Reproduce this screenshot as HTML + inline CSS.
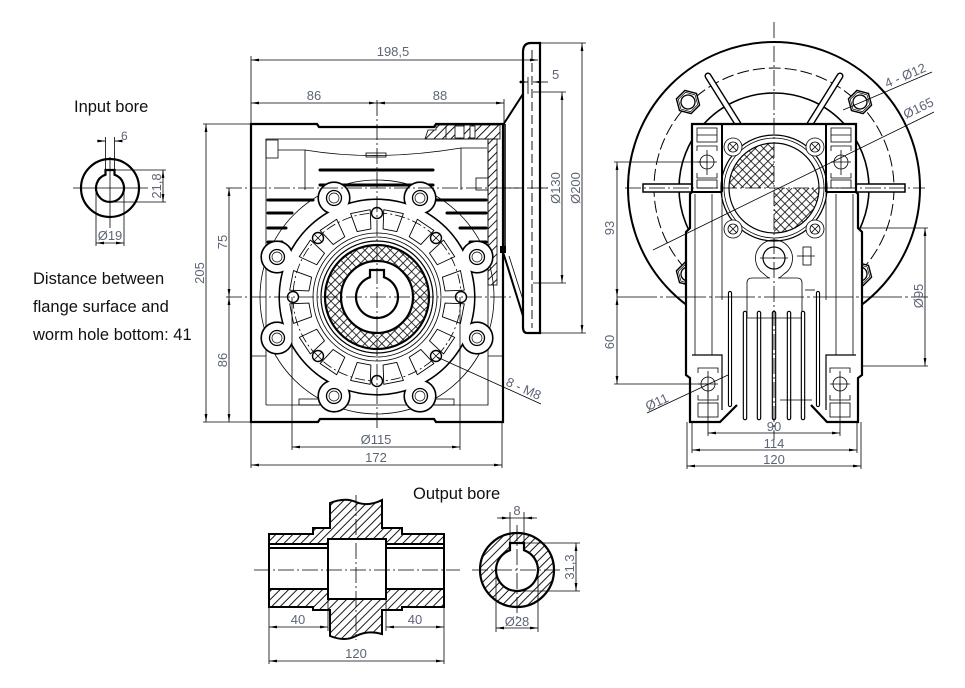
<!DOCTYPE html>
<html><head><meta charset="utf-8"><title>Worm gearbox dimensions</title>
<style>
html,body{margin:0;padding:0;background:#fff;width:965px;height:688px;overflow:hidden}
svg{display:block}
.t{font-family:"Liberation Sans",sans-serif;font-size:13px;fill:#5d6575}
.h{font-family:"Liberation Sans",sans-serif;font-size:16.5px;fill:#111}
.k{stroke:#000;fill:none;stroke-width:2.2}
.m{stroke:#000;fill:none;stroke-width:1.2}
.n{stroke:#000;fill:none;stroke-width:.8}
.c{stroke:#000;fill:none;stroke-width:.8;stroke-dasharray:16 3 2 3}
.d{stroke:#000;fill:none;stroke-width:.8}
.a{marker-start:url(#ar);marker-end:url(#ar)}
.e{marker-end:url(#ar)}
</style></head><body>
<svg width="965" height="688" viewBox="0 0 965 688" xmlns="http://www.w3.org/2000/svg">
<defs>
<marker id="ar" viewBox="0 0 8 4" refX="8" refY="2" markerWidth="8" markerHeight="4" markerUnits="userSpaceOnUse" orient="auto-start-reverse"><path d="M0,0.6 L8,2 L0,3.4z" fill="#000"/></marker>
<pattern id="hx" width="6" height="6" patternUnits="userSpaceOnUse" patternTransform="rotate(45)"><line x1="3" y1="-1" x2="3" y2="7" stroke="#000" stroke-width="0.9"/></pattern>
<pattern id="cx" width="6" height="6" patternUnits="userSpaceOnUse" patternTransform="rotate(45)"><path d="M3,-1 V7 M-1,3 H7" stroke="#000" stroke-width="0.8"/></pattern>
<path id="win" d="M370,229 L384,229 L387,210 L367,210 Z" fill="none" stroke="#000" stroke-width=".9" stroke-linejoin="round"/>
<g id="nut"><polygon points="12,0 6,10.4 -6,10.4 -12,0 -6,-10.4 6,-10.4" fill="#fff" stroke="#000" stroke-width="1.4"/><polygon points="10,0 5,8.7 -5,8.7 -10,0 -5,-8.7 5,-8.7" fill="none" stroke="#000" stroke-width=".7"/><circle r="7" fill="none" stroke="#000" stroke-width="1.3"/></g>
</defs>
<rect width="965" height="688" fill="#fff"/>

<!-- ============ INPUT BORE ============ -->
<text class="h" x="74" y="112">Input bore</text>
<circle cx="110" cy="188" r="29" class="k"/>
<path class="k" d="M105.5,174.7 L105.5,170 L114.5,170 L114.5,174.7 A14,14 0 1 1 105.5,174.7 Z"/>
<line class="n" x1="73" y1="188" x2="148" y2="188"/>
<line class="n" x1="110" y1="157" x2="110" y2="228"/>
<line class="d" x1="105.5" y1="170" x2="105.5" y2="137"/>
<line class="d" x1="114.5" y1="170" x2="114.5" y2="137"/>
<line class="d e" x1="97" y1="141" x2="105.5" y2="141"/>
<line class="d e" x1="121" y1="141" x2="114.5" y2="141"/>
<text class="t" x="121" y="140" style="font-size:12px">6</text>
<line class="d" x1="115" y1="170" x2="166" y2="170"/>
<line class="d" x1="110" y1="202" x2="166" y2="202"/>
<line class="d a" x1="163" y1="170" x2="163" y2="202"/>
<text class="t" transform="translate(161,186) rotate(-90)" text-anchor="middle">21,8</text>
<line class="d" x1="96" y1="188" x2="96" y2="246"/>
<line class="d" x1="124" y1="188" x2="124" y2="246"/>
<line class="d a" x1="96" y1="243" x2="124" y2="243"/>
<text class="t" x="110" y="240" text-anchor="middle">Ø19</text>

<text class="h" x="33" y="284">Distance between</text>
<text class="h" x="33" y="312">flange surface and</text>
<text class="h" x="33" y="340">worm hole bottom: 41</text>

<!-- ============ FRONT VIEW ============ -->
<path class="k" style="fill:#fff" d="M251,124 L317,124 L319,127 L434,127 L436,124 L503,124 L503,422 L436,422 L434,419 L320,419 L318,422 L251,422 Z"/>
<path class="n" d="M266,405 L266,139 L487,139"/>
<rect class="n" x="266" y="140" width="12" height="18"/>
<path class="n" d="M278,150 L305,150 L305,190"/>
<path class="n" d="M305,150 Q377,162 461,148"/>
<rect class="n" x="366" y="153" width="20" height="4"/>
<path class="n" d="M461,190 L461,148 L487,148"/>
<rect class="n" x="476" y="178" width="12" height="12"/>
<rect x="488" y="139" width="9" height="146" fill="url(#hx)" stroke="#000" stroke-width=".8"/>
<path d="M425,139 L428,130 L436,130 L436,125 L500,125 L500,139 Z" fill="url(#hx)" stroke="#000" stroke-width=".8"/>
<rect x="455" y="126" width="9" height="12" fill="#fff" stroke="#000" stroke-width=".8"/>
<rect x="470" y="126" width="5" height="12" fill="#fff" stroke="#000" stroke-width=".8"/>
<line class="n" x1="446" y1="126" x2="446" y2="139"/>
<g stroke="#000" stroke-width="3" stroke-linecap="round">
<line x1="320" y1="170" x2="433" y2="170"/>
<line x1="320" y1="185" x2="433" y2="185"/>
<line x1="268" y1="200" x2="313" y2="200"/>
<line x1="437" y1="200" x2="486" y2="200"/>
<line x1="268" y1="213" x2="292" y2="213"/>
<line x1="268" y1="228" x2="286" y2="228"/>
<line x1="268" y1="242" x2="282" y2="242"/>
<line x1="447" y1="213" x2="486" y2="213"/>
<line x1="460" y1="228" x2="486" y2="228"/>
<line x1="470" y1="242" x2="486" y2="242"/>
</g>
<path class="n" d="M251,356 L266,356 M266,405 L488,405 L488,139 M488,356 L502,356"/>
<rect class="n" x="299" y="399" width="22" height="6"/>
<rect class="n" x="432" y="399" width="22" height="6"/>
<circle cx="377" cy="297" r="117" class="n"/>

<!-- flange outline (union) -->
<g stroke="#000" stroke-width="3.2" fill="none">
<circle cx="377" cy="297" r="97"/>
<circle cx="334" cy="198" r="15"/><circle cx="420" cy="198" r="15"/>
<circle cx="277" cy="257" r="15"/><circle cx="477" cy="257" r="15"/>
<circle cx="277" cy="338" r="15"/><circle cx="477" cy="338" r="15"/>
<circle cx="334" cy="396" r="15"/><circle cx="420" cy="396" r="15"/>
</g>
<g fill="#fff">
<circle cx="377" cy="297" r="97"/>
<circle cx="334" cy="198" r="15"/><circle cx="420" cy="198" r="15"/>
<circle cx="277" cy="257" r="15"/><circle cx="477" cy="257" r="15"/>
<circle cx="277" cy="338" r="15"/><circle cx="477" cy="338" r="15"/>
<circle cx="334" cy="396" r="15"/><circle cx="420" cy="396" r="15"/>
</g>
<g stroke="#000" fill="none" stroke-width="1.3">
<circle cx="334" cy="198" r="7.5"/><circle cx="420" cy="198" r="7.5"/>
<circle cx="277" cy="257" r="7.5"/><circle cx="477" cy="257" r="7.5"/>
<circle cx="277" cy="338" r="7.5"/><circle cx="477" cy="338" r="7.5"/>
<circle cx="334" cy="396" r="7.5"/><circle cx="420" cy="396" r="7.5"/>
</g>
<g stroke="#000" fill="none" stroke-width=".7">
<circle cx="334" cy="198" r="5"/><circle cx="420" cy="198" r="5"/>
<circle cx="277" cy="257" r="5"/><circle cx="477" cy="257" r="5"/>
<circle cx="277" cy="338" r="5"/><circle cx="477" cy="338" r="5"/>
<circle cx="334" cy="396" r="5"/><circle cx="420" cy="396" r="5"/>
</g>
<circle cx="377" cy="297" r="84" class="n" stroke-dasharray="10 3 2 3"/>
<use href="#win" transform="rotate(11 377 297)"/><use href="#win" transform="rotate(34 377 297)"/>
<use href="#win" transform="rotate(56 377 297)"/><use href="#win" transform="rotate(79 377 297)"/>
<use href="#win" transform="rotate(101 377 297)"/><use href="#win" transform="rotate(124 377 297)"/>
<use href="#win" transform="rotate(146 377 297)"/><use href="#win" transform="rotate(169 377 297)"/>
<use href="#win" transform="rotate(191 377 297)"/><use href="#win" transform="rotate(214 377 297)"/>
<use href="#win" transform="rotate(236 377 297)"/><use href="#win" transform="rotate(259 377 297)"/>
<use href="#win" transform="rotate(281 377 297)"/><use href="#win" transform="rotate(304 377 297)"/>
<use href="#win" transform="rotate(326 377 297)"/><use href="#win" transform="rotate(349 377 297)"/>
<circle cx="377" cy="297" r="64" class="n"/>
<circle cx="377" cy="297" r="60" class="n"/>
<circle cx="377" cy="297" r="56" class="m"/>
<g stroke="#000" fill="#fff" stroke-width="1.4">
<circle cx="377" cy="213" r="5.5"/><circle cx="436" cy="238" r="5.5"/>
<circle cx="461" cy="297" r="5.5"/><circle cx="436" cy="356" r="5.5"/>
<circle cx="377" cy="381" r="5.5"/><circle cx="318" cy="356" r="5.5"/>
<circle cx="293" cy="297" r="5.5"/><circle cx="318" cy="238" r="5.5"/>
</g>
<path class="n" d="M432,234 l8,8 m0,-8 l-8,8 M432,352 l8,8 m0,-8 l-8,8 M314,352 l8,8 m0,-8 l-8,8 M314,234 l8,8 m0,-8 l-8,8"/>
<path fill="url(#cx)" fill-rule="evenodd" d="M325,297 a52,52 0 1 0 104,0 a52,52 0 1 0 -104,0 Z M341,297 a36,36 0 1 0 72,0 a36,36 0 1 0 -72,0 Z"/>
<circle cx="377" cy="297" r="52" class="k"/>
<circle cx="377" cy="297" r="36" class="k" style="fill:#fff"/>
<path class="k" d="M370,277.2 L370,270 L384,270 L384,277.2 A21,21 0 1 1 370,277.2 Z"/>

<line class="c" x1="377" y1="100" x2="377" y2="430"/>
<line class="c" x1="226" y1="297" x2="512" y2="297"/>
<line class="c" x1="226" y1="188" x2="548" y2="188"/>

<!-- flange side -->
<line x1="503" y1="125" x2="523" y2="94" stroke="#000" stroke-width="2"/>
<line x1="503" y1="252" x2="523" y2="316" stroke="#000" stroke-width="2"/>
<line x1="509" y1="256" x2="523" y2="300" class="n"/>
<line x1="505" y1="124" x2="505" y2="250" stroke="#000" stroke-width="1.5"/>
<rect x="500" y="246" width="6" height="7" fill="#000"/>
<path class="k" style="fill:#fff" d="M523,52 Q523,43 531,43 L540,43 L540,333 L527,333 Q523,333 523,327 Z"/>
<line x1="532" y1="50" x2="532" y2="328" stroke="#000" stroke-width=".9" stroke-dasharray="9 4"/>
<line class="c" x1="503" y1="188" x2="548" y2="188"/>

<!-- front dims -->
<line class="d" x1="251" y1="56" x2="251" y2="124"/>
<line class="d a" x1="251" y1="60" x2="538" y2="60"/>
<text class="t" x="393" y="56" text-anchor="middle">198,5</text>
<line class="d a" x1="251" y1="103" x2="377" y2="103"/>
<line class="d a" x1="377" y1="103" x2="504" y2="103"/>
<line class="d" x1="504" y1="99" x2="504" y2="124"/>
<text class="t" x="314" y="100" text-anchor="middle">86</text>
<text class="t" x="440" y="100" text-anchor="middle">88</text>
<line class="d e" x1="519" y1="82" x2="528" y2="82"/>
<line class="d e" x1="548" y1="82" x2="533" y2="82"/>
<line class="d" x1="528" y1="77" x2="528" y2="94"/>
<text class="t" x="552" y="79">5</text>
<line class="d" x1="533" y1="92" x2="566" y2="92"/>
<line class="d" x1="533" y1="283" x2="566" y2="283"/>
<line class="d a" x1="562" y1="92" x2="562" y2="283"/>
<text class="t" transform="translate(560,188) rotate(-90)" text-anchor="middle">Ø130</text>
<line class="d" x1="540" y1="43" x2="586" y2="43"/>
<line class="d" x1="540" y1="333" x2="586" y2="333"/>
<line class="d a" x1="582" y1="43" x2="582" y2="333"/>
<text class="t" transform="translate(580,188) rotate(-90)" text-anchor="middle">Ø200</text>
<line class="d" x1="203" y1="124" x2="251" y2="124"/>
<line class="d" x1="203" y1="422" x2="251" y2="422"/>
<line class="d a" x1="206" y1="124" x2="206" y2="422"/>
<text class="t" transform="translate(204,273) rotate(-90)" text-anchor="middle">205</text>
<line class="d a" x1="229" y1="188" x2="229" y2="297"/>
<line class="d a" x1="229" y1="297" x2="229" y2="422"/>
<text class="t" transform="translate(227,242) rotate(-90)" text-anchor="middle">75</text>
<text class="t" transform="translate(227,360) rotate(-90)" text-anchor="middle">86</text>
<line class="d" x1="292" y1="297" x2="292" y2="450"/>
<line class="d" x1="460" y1="297" x2="460" y2="450"/>
<line class="d a" x1="292" y1="447" x2="460" y2="447"/>
<text class="t" x="376" y="444" text-anchor="middle">Ø115</text>
<line class="d" x1="251" y1="422" x2="251" y2="468"/>
<line class="d" x1="502" y1="422" x2="502" y2="468"/>
<line class="d a" x1="251" y1="465" x2="502" y2="465"/>
<text class="t" x="376" y="462" text-anchor="middle">172</text>
<line class="d" x1="437" y1="357" x2="541" y2="404"/>
<text class="t" transform="translate(505,385) rotate(24.3)">8 - M8</text>

<!-- ============ SIDE VIEW ============ -->
<circle cx="774" cy="188" r="146" stroke="#000" stroke-width="2" fill="none"/>
<circle cx="774" cy="188" r="120" class="n" stroke-dasharray="12 4" style="stroke-width:1"/>
<circle cx="774" cy="188" r="95" stroke="#000" stroke-width="1.6" fill="none"/>
<use href="#nut" transform="translate(688,102) rotate(15)"/>
<use href="#nut" transform="translate(860,102) rotate(15)"/>
<use href="#nut" transform="translate(688,274) rotate(15)"/>
<use href="#nut" transform="translate(860,274) rotate(15)"/>
<g stroke-linecap="round">
<line x1="708" y1="76" x2="738" y2="124" stroke="#000" stroke-width="7"/>
<line x1="708" y1="76" x2="738" y2="124" stroke="#fff" stroke-width="4.2"/>
<line x1="840" y1="76" x2="810" y2="124" stroke="#000" stroke-width="7"/>
<line x1="840" y1="76" x2="810" y2="124" stroke="#fff" stroke-width="4.2"/>
</g>
<rect x="643" y="184" width="49" height="8" fill="#fff" stroke="#000" stroke-width="1.5"/>
<rect x="856" y="184" width="49" height="8" fill="#fff" stroke="#000" stroke-width="1.5"/>
<path class="k" style="fill:#fff" d="M737,405 L720,422 L690,422 L690,378 L686,375 L686,232 L690,228 L690,194 L692,192 L692,124 L856,124 L856,192 L858,194 L858,228 L862,232 L862,375 L858,378 L858,422 L827,422 L811,405"/>
<g stroke="#000" stroke-width="2"><line x1="722" y1="124" x2="722" y2="192"/><line x1="826" y1="124" x2="826" y2="192"/><line x1="692" y1="192" x2="722" y2="192"/><line x1="826" y1="192" x2="856" y2="192"/></g>
<g class="n">
<line x1="695" y1="194" x2="695" y2="355"/><line x1="712" y1="194" x2="712" y2="355"/>
<line x1="722" y1="192" x2="722" y2="300"/><line x1="826" y1="192" x2="826" y2="300"/>
<line x1="836" y1="194" x2="836" y2="355"/><line x1="853" y1="194" x2="853" y2="355"/>
</g>
<!-- top blocks -->
<g class="n">
<rect x="697" y="128" width="20" height="14"/><line x1="697" y1="135" x2="717" y2="135"/>
<circle cx="707" cy="162" r="7"/>
<path d="M697,151 L697,146 L717,146 L717,151 M697,173 L697,178 L717,178 L717,173 M697,162 H717 M707,150 V175"/>
<rect x="697" y="180" width="20" height="8"/>
<rect x="831" y="128" width="20" height="14"/><line x1="831" y1="135" x2="851" y2="135"/>
<circle cx="841" cy="162" r="7"/>
<path d="M831,151 L831,146 L851,146 L851,151 M831,173 L831,178 L851,178 L851,173 M831,162 H851 M841,150 V175"/>
<rect x="831" y="180" width="20" height="8"/>
</g>
<!-- central -->
<circle cx="774" cy="188" r="53" class="m"/>
<circle cx="774" cy="188" r="50" class="n"/>
<path fill="url(#cx)" d="M774,188 L729,188 A45,45 0 0 1 774,143 Z"/>
<path fill="url(#cx)" d="M774,188 L819,188 A45,45 0 0 1 774,233 Z"/>
<circle cx="774" cy="188" r="45" class="m"/>
<g class="n">
<circle cx="733" cy="147" r="9" style="fill:#fff"/><circle cx="815" cy="147" r="9" style="fill:#fff"/>
<circle cx="733" cy="229" r="9" style="fill:#fff"/><circle cx="815" cy="229" r="9" style="fill:#fff"/>
<circle cx="733" cy="147" r="5"/><circle cx="815" cy="147" r="5"/>
<circle cx="733" cy="229" r="5"/><circle cx="815" cy="229" r="5"/>
<path d="M729,143 l8,8 m0,-8 l-8,8 M811,143 l8,8 m0,-8 l-8,8 M729,225 l8,8 m0,-8 l-8,8 M811,225 l8,8 m0,-8 l-8,8"/>
</g>
<!-- boss -->
<path class="n" d="M764,274 A18.5,18.5 0 1 1 784,274 Q780,278 778,278 L797,278 Q802,278 802,283 L802,318 M764,274 Q768,278 770,278 L752,278 Q747,278 747,283 L747,318"/>
<circle cx="774" cy="258" r="11" class="m"/>
<path class="n" d="M760,258 H788"/>
<rect class="n" x="803" y="247" width="8" height="18"/>
<line class="n" x1="797" y1="256" x2="815" y2="256"/>
<!-- fins -->
<g stroke-linecap="round">
<line x1="730" y1="293" x2="730" y2="405" stroke="#000" stroke-width="4.2"/><line x1="730" y1="293" x2="730" y2="405" stroke="#fff" stroke-width="2"/>
<line x1="818" y1="293" x2="818" y2="405" stroke="#000" stroke-width="4.2"/><line x1="818" y1="293" x2="818" y2="405" stroke="#fff" stroke-width="2"/>
<line x1="745" y1="313" x2="745" y2="418" stroke="#000" stroke-width="4.5"/><line x1="745" y1="313" x2="745" y2="418" stroke="#fff" stroke-width="2.2"/>
<line x1="759" y1="313" x2="759" y2="418" stroke="#000" stroke-width="4.5"/><line x1="759" y1="313" x2="759" y2="418" stroke="#fff" stroke-width="2.2"/>
<line x1="774" y1="313" x2="774" y2="418" stroke="#000" stroke-width="4.5"/><line x1="774" y1="313" x2="774" y2="418" stroke="#fff" stroke-width="2.2"/>
<line x1="789" y1="313" x2="789" y2="418" stroke="#000" stroke-width="4.5"/><line x1="789" y1="313" x2="789" y2="418" stroke="#fff" stroke-width="2.2"/>
<line x1="803" y1="313" x2="803" y2="418" stroke="#000" stroke-width="4.5"/><line x1="803" y1="313" x2="803" y2="418" stroke="#fff" stroke-width="2.2"/>
</g>
<line class="n" x1="747" y1="318" x2="802" y2="318"/>
<line class="n" x1="780" y1="400" x2="812" y2="400"/>
<line class="n" x1="805" y1="290" x2="815" y2="290"/>
<!-- feet -->
<g class="m">
<path d="M692,355 L722,355 L722,410"/>
<path d="M856,355 L826,355 L826,410"/>
</g>
<g class="n">
<circle cx="708" cy="384" r="7"/>
<path d="M698,373 L698,368 L718,368 L718,373 M698,395 L698,400 L718,400 L718,395 M698,384 H718 M708,371 V398"/>
<rect x="698" y="403" width="20" height="14"/>
<circle cx="840" cy="384" r="7"/>
<path d="M830,373 L830,368 L850,368 L850,373 M830,395 L830,400 L850,400 L850,395 M830,384 H850 M840,371 V398"/>
<rect x="830" y="403" width="20" height="14"/>
</g>

<line class="c" x1="774" y1="22" x2="774" y2="440"/>
<line class="c" x1="625" y1="188" x2="925" y2="188"/>
<line class="d" x1="617" y1="297" x2="928" y2="297" stroke-dasharray="40 3 3 3"/>

<!-- side dims -->
<line class="d" x1="614" y1="162" x2="707" y2="162"/>
<line class="d a" x1="617" y1="162" x2="617" y2="297"/>
<text class="t" transform="translate(614,228) rotate(-90)" text-anchor="middle">93</text>
<line class="d" x1="614" y1="384" x2="708" y2="384"/>
<line class="d a" x1="617" y1="297" x2="617" y2="384"/>
<text class="t" transform="translate(614,342) rotate(-90)" text-anchor="middle">60</text>
<line class="d" x1="860" y1="228" x2="928" y2="228"/>
<line class="d" x1="862" y1="366" x2="928" y2="366"/>
<line class="d a" x1="925" y1="228" x2="925" y2="366"/>
<text class="t" transform="translate(923,296) rotate(-90)" text-anchor="middle">Ø95</text>
<line class="d" x1="708" y1="384" x2="708" y2="436"/>
<line class="d" x1="840" y1="384" x2="840" y2="436"/>
<line class="d a" x1="708" y1="433" x2="840" y2="433"/>
<text class="t" x="774" y="431" text-anchor="middle">90</text>
<line class="d" x1="692" y1="422" x2="692" y2="453"/>
<line class="d" x1="857" y1="422" x2="857" y2="453"/>
<line class="d a" x1="692" y1="450" x2="857" y2="450"/>
<text class="t" x="774" y="448" text-anchor="middle">114</text>
<line class="d" x1="687" y1="422" x2="687" y2="469"/>
<line class="d" x1="861" y1="422" x2="861" y2="469"/>
<line class="d a" x1="687" y1="466" x2="861" y2="466"/>
<text class="t" x="774" y="464" text-anchor="middle">120</text>
<line class="d" x1="653" y1="250" x2="934" y2="112"/>
<text class="t" transform="translate(906,119) rotate(-26)">Ø165</text>
<line class="d" x1="843" y1="110" x2="932" y2="72"/>
<text class="t" transform="translate(887,88) rotate(-23)">4 - Ø12</text>
<line class="d" x1="647" y1="413" x2="728" y2="375"/>
<text class="t" transform="translate(648,411) rotate(-25)">Ø11</text>

<!-- ============ OUTPUT BORE ============ -->
<text class="h" x="413" y="499">Output bore</text>
<path d="M269,534 L313,534 L313,528 L330,528 L330,503 Q345,497 356,502 Q368,507 382,500 L382,528 L402,528 L402,534 L444,534 L444,607 L402,607 L402,610 L382,610 L382,634 Q368,630 356,636 Q345,642 330,636 L330,610 L313,610 L313,607 L269,607 Z" fill="url(#hx)" stroke="#000" stroke-width="2"/>
<rect x="269" y="543" width="175" height="46" fill="#fff"/>
<rect x="328" y="539" width="58" height="60" fill="#fff" stroke="#000" stroke-width="2"/>
<g stroke="#000" stroke-width="2">
<line x1="269" y1="544" x2="328" y2="544"/><line x1="386" y1="544" x2="444" y2="544"/>
<line x1="269" y1="548" x2="328" y2="548"/><line x1="386" y1="548" x2="444" y2="548"/>
<line x1="269" y1="589" x2="328" y2="589"/><line x1="386" y1="589" x2="444" y2="589"/>
<line x1="269" y1="534" x2="269" y2="607"/><line x1="444" y1="534" x2="444" y2="607"/>
</g>
<line class="c" x1="254" y1="570" x2="460" y2="570"/>
<line class="c" x1="356" y1="495" x2="356" y2="640"/>
<line class="d" x1="269" y1="607" x2="269" y2="664"/>
<line class="d" x1="444" y1="607" x2="444" y2="664"/>
<line class="d" x1="328" y1="599" x2="328" y2="631"/>
<line class="d" x1="386" y1="599" x2="386" y2="631"/>
<line class="d a" x1="269" y1="627" x2="328" y2="627"/>
<line class="d a" x1="386" y1="627" x2="444" y2="627"/>
<text class="t" x="298" y="624" text-anchor="middle">40</text>
<text class="t" x="415" y="624" text-anchor="middle">40</text>
<line class="d a" x1="269" y1="661" x2="444" y2="661"/>
<text class="t" x="356" y="658" text-anchor="middle">120</text>

<path fill="url(#hx)" fill-rule="evenodd" d="M480,570 a37,37 0 1 0 74,0 a37,37 0 1 0 -74,0 Z M510,550.2 L510,543 L524,543 L524,550.2 A21,21 0 1 1 510,550.2 Z"/>
<circle cx="517" cy="570" r="37" class="k"/>
<path class="k" d="M510,550.2 L510,543 L524,543 L524,550.2 A21,21 0 1 1 510,550.2 Z"/>
<line class="c" x1="472" y1="570" x2="562" y2="570"/>
<line class="c" x1="517" y1="525" x2="517" y2="620"/>
<line class="d" x1="510" y1="543" x2="510" y2="512"/>
<line class="d" x1="524" y1="543" x2="524" y2="512"/>
<line class="d" x1="497" y1="518" x2="537" y2="518"/>
<line class="d e" x1="500" y1="518" x2="510" y2="518"/>
<line class="d e" x1="534" y1="518" x2="524" y2="518"/>
<text class="t" x="517" y="515" text-anchor="middle">8</text>
<line class="d" x1="524" y1="543" x2="580" y2="543"/>
<line class="d" x1="517" y1="591" x2="580" y2="591"/>
<line class="d a" x1="576" y1="543" x2="576" y2="591"/>
<text class="t" transform="translate(574,567) rotate(-90)" text-anchor="middle">31,3</text>
<line class="d" x1="496" y1="570" x2="496" y2="632"/>
<line class="d" x1="538" y1="570" x2="538" y2="632"/>
<line class="d a" x1="496" y1="628" x2="538" y2="628"/>
<text class="t" x="517" y="626" text-anchor="middle">Ø28</text>
</svg>
</body></html>
